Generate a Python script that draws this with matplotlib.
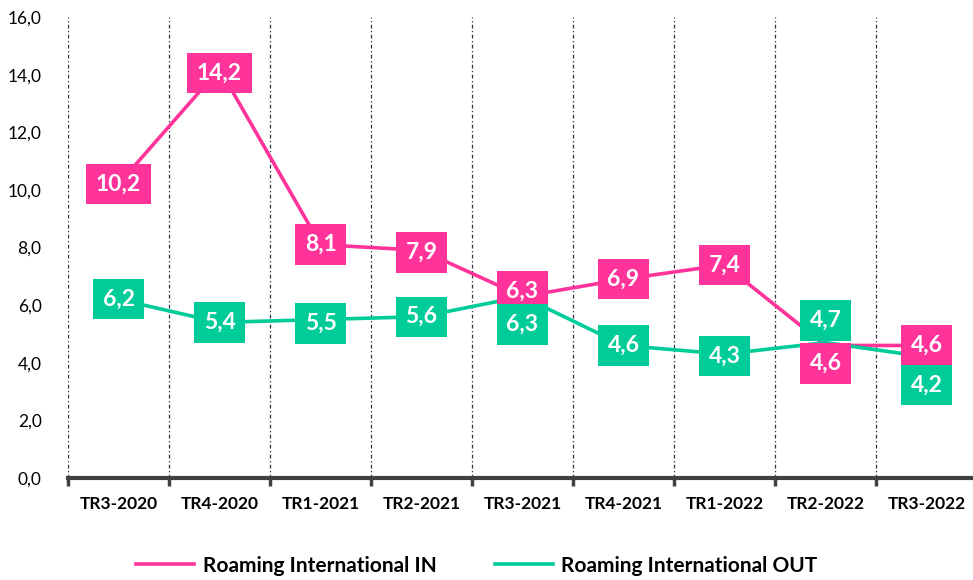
import matplotlib.pyplot as plt
from matplotlib.ticker import FuncFormatter

quarters = ['TR3-2020', 'TR4-2020', 'TR1-2021', 'TR2-2021', 'TR3-2021',
            'TR4-2021', 'TR1-2022', 'TR2-2022', 'TR3-2022']
roaming_in = [10.2, 14.2, 8.1, 7.9, 6.3, 6.9, 7.4, 4.6, 4.6]
roaming_out = [6.2, 5.4, 5.5, 5.6, 6.3, 4.6, 4.3, 4.7, 4.2]

# label offsets in pixels (dy) so boxes don't overlap
in_dy = [0, -4, 0, -2, 5, 0, 0, -18, 0]
out_dy = [0, 0, -4, 0, -28, 0, -2, 22, -28]

pink = '#FF3399'
green = '#00CC99'

plt.rcParams['font.family'] = ['Lato', 'DejaVu Sans']

fig = plt.figure(figsize=(9.73, 5.8), dpi=100)
ax = fig.add_axes([68 / 973, 102 / 580, 909 / 973, 461 / 580])

x = list(range(len(quarters)))
ax.plot(x, roaming_in, color=pink, lw=2.6, zorder=3, label='Roaming International IN')
ax.plot(x, roaming_out, color=green, lw=2.6, zorder=3, label='Roaming International OUT')

for i in x:
    for vals, dys, col in ((roaming_in, in_dy, pink), (roaming_out, out_dy, green)):
        ax.annotate(f'{vals[i]:.1f}'.replace('.', ','), (i, vals[i]),
                    xytext=(0, dys[i]), textcoords='offset pixels',
                    ha='center', va='center', color='white', fontsize=16.5,
                    fontweight='bold', zorder=5,
                    bbox=dict(boxstyle='square,pad=0.42', fc=col, ec='none'))

ax.set_xlim(-0.5, len(quarters) - 0.5)
ax.set_ylim(0, 16)
ax.set_yticks([0, 2, 4, 6, 8, 10, 12, 14, 16])
ax.yaxis.set_major_formatter(FuncFormatter(lambda v, p: f'{v:.1f}'.replace('.', ',')))

for b in range(len(quarters) + 1):
    ax.axvline(b - 0.5, color='#303048', lw=0.9, ls=(0, (3, 2, 1, 2)), zorder=1)

ax.set_xticks(x)
ax.set_xticklabels(quarters, fontweight='bold', fontsize=12.5)
ax.set_xticks([b - 0.5 for b in range(len(quarters) + 1)], minor=True)
ax.tick_params(axis='x', which='major', length=0, pad=13)
ax.tick_params(axis='x', which='minor', length=6, width=2.5, color='#404040', direction='out')
ax.tick_params(axis='y', length=0, labelsize=12.5, pad=19)

for s in ('top', 'right', 'left'):
    ax.spines[s].set_visible(False)
ax.spines['bottom'].set_linewidth(3)
ax.spines['bottom'].set_color('#404040')

fig.legend(loc='lower center', bbox_to_anchor=(0.49, -0.025), ncol=2, frameon=False,
           prop={'weight': 'bold', 'size': 15}, handlelength=2.8, handletextpad=0.4,
           columnspacing=2.8)

fig.savefig('out.png', dpi=100)
